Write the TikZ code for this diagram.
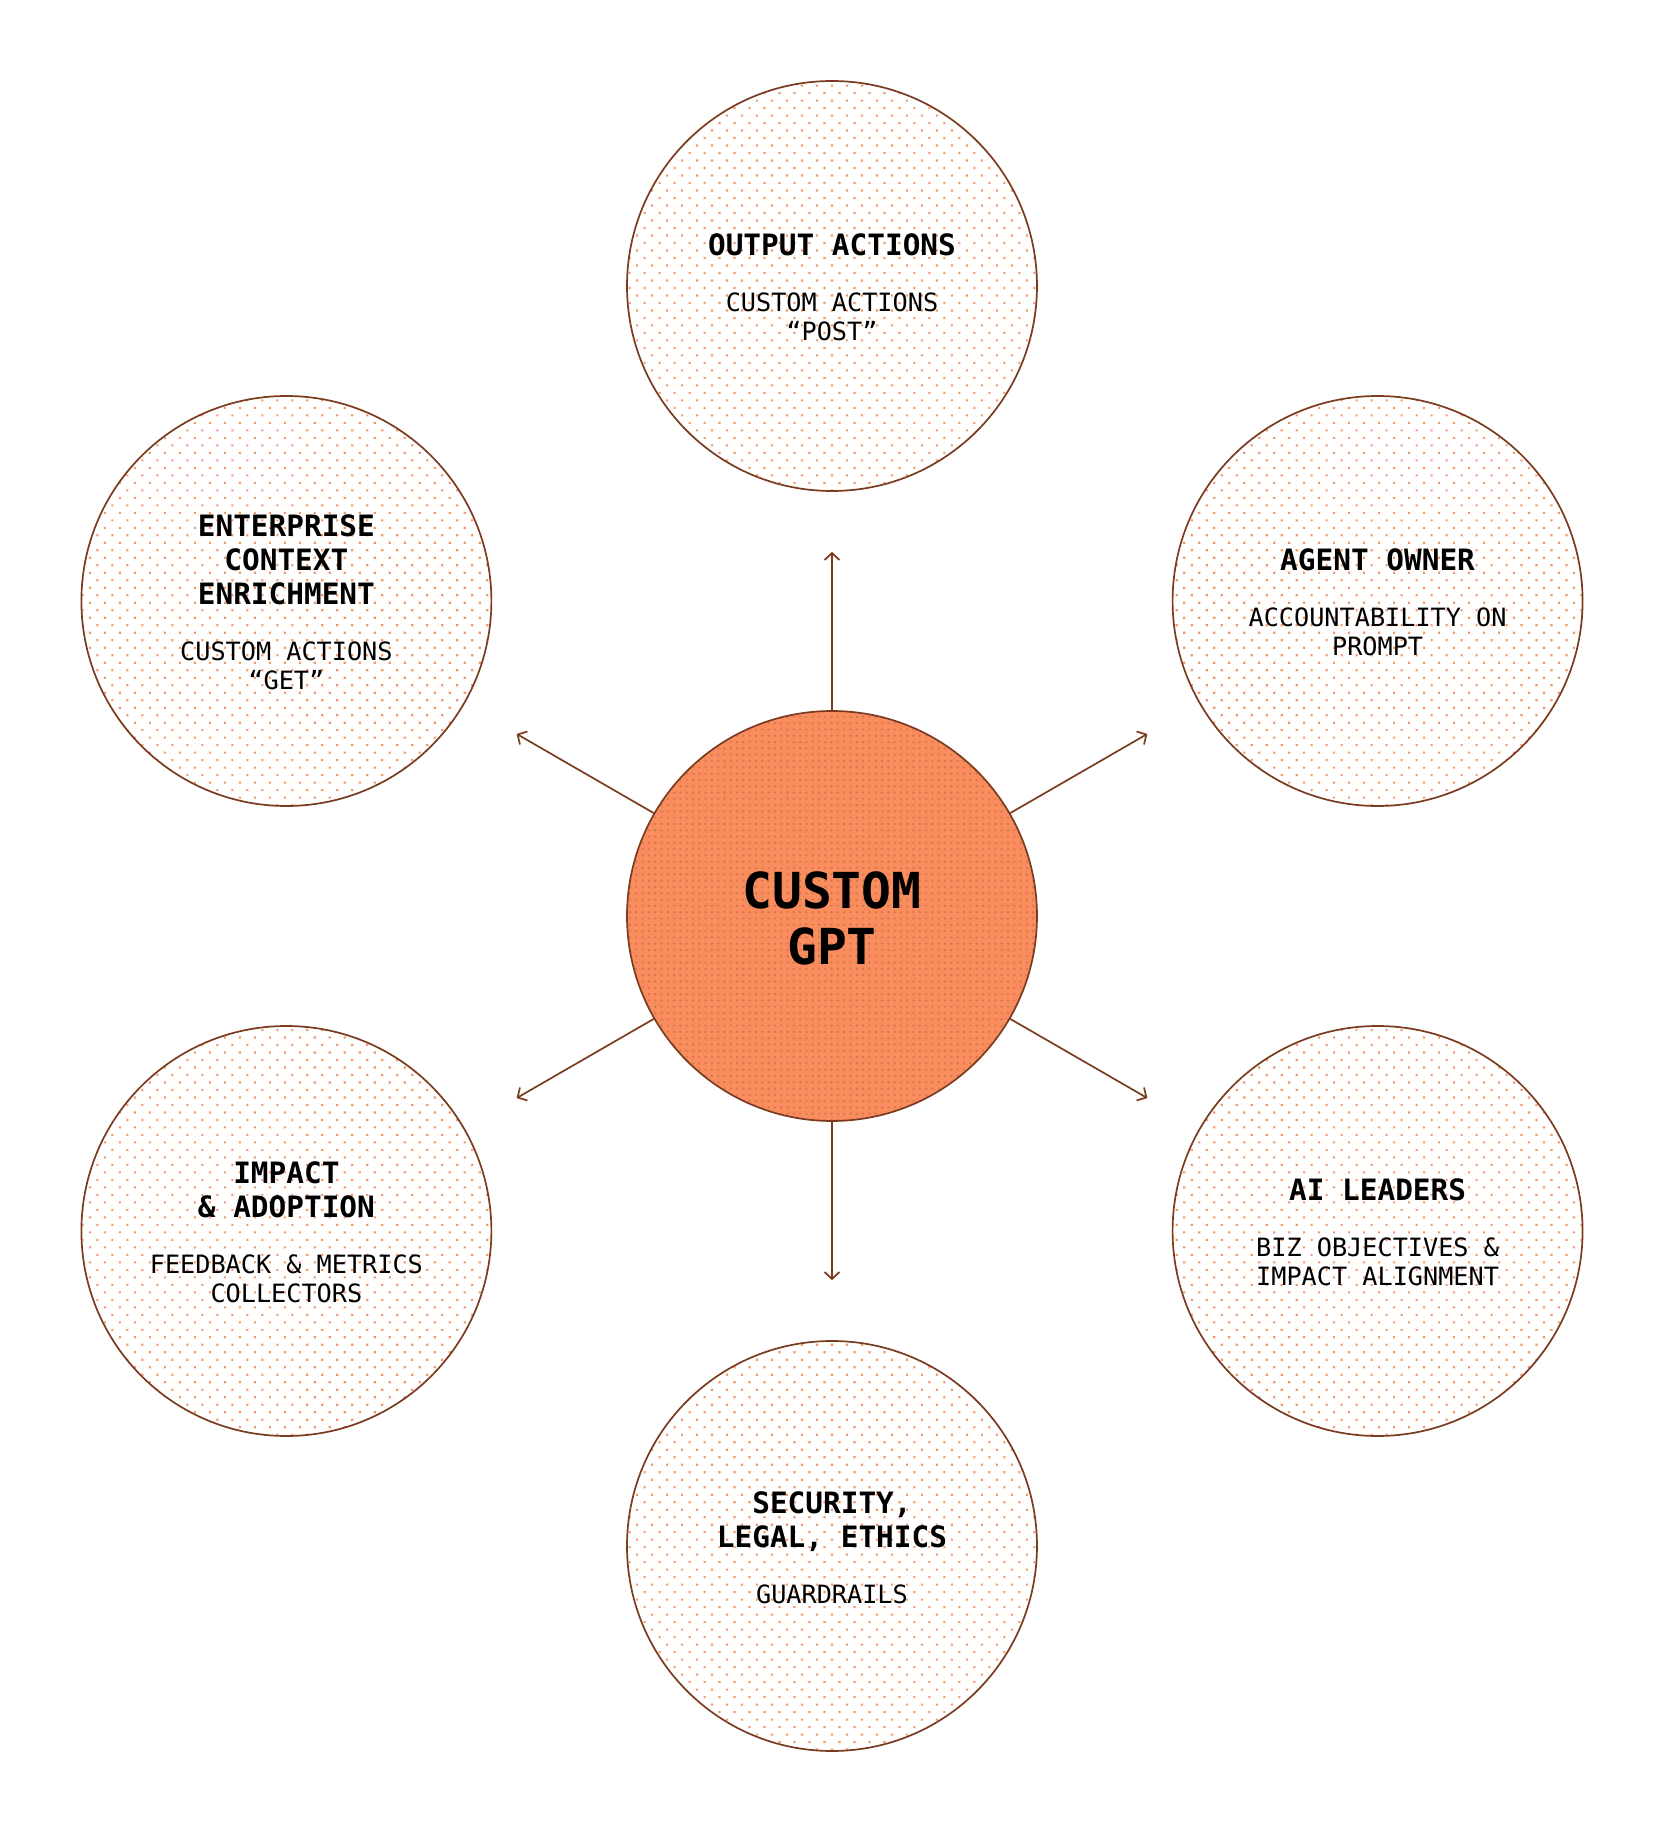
\documentclass[tikz,border=0pt]{standalone}
\usepackage{fontspec}
\setmonofont{DejaVu Sans Mono}
\usetikzlibrary{arrows.meta,patterns.meta}
\definecolor{rim}{HTML}{7A3B1F}
\definecolor{dotlight}{HTML}{F0996E}
\definecolor{coral}{HTML}{FA8D5E}
\definecolor{dotdark}{HTML}{D8774C}
\newcommand\titlefont{\ttfamily\bfseries\fontsize{14.7}{17}\selectfont}
\newcommand\subfont{\ttfamily\fontsize{12.6}{14.6}\selectfont}
\newcommand\hubfont{\ttfamily\bfseries\fontsize{24.8}{28}\selectfont}
\newcommand\bubbletext[2]{{\titlefont\begin{tabular}{@{}c@{}}\rule{0pt}{16.5pt}#1\end{tabular}}\\[11.7pt]{\subfont\begin{tabular}{@{}c@{}}#2\end{tabular}}}

\begin{document}
\begin{tikzpicture}[
    disc/.style={circle,minimum size=205pt,inner sep=0pt,draw=rim,line width=0.85pt,align=center},
    bubble/.style={disc,preaction={fill=white},pattern={Dots[distance=5.3pt,angle=45,radius=0.75pt]},pattern color=dotlight},
    hub/.style={disc,preaction={fill=coral},pattern={Dots[distance=3.15pt,radius=0.65pt]},pattern color=dotdark,font=\hubfont},
    link/.style={draw=rim,line width=0.85pt,-{Straight Barb[length=3.5pt,width=7.5pt]},shorten >=30pt}]
    \useasboundingbox (-416pt,-458pt) rectangle (416pt,458pt);
    \node[hub] (custom) at (0,0) {\rule{0pt}{20.5pt}CUSTOM\\GPT};
    \node[bubble] (output) at (90:315pt) {\bubbletext{OUTPUT ACTIONS}{CUSTOM ACTIONS\\“POST”}};
    \node[bubble] (owner) at (30:315pt) {\bubbletext{AGENT OWNER}{ACCOUNTABILITY ON\\PROMPT}};
    \node[bubble] (leaders) at (-30:315pt) {\bubbletext{AI LEADERS}{BIZ OBJECTIVES \&\\IMPACT ALIGNMENT}};
    \node[bubble] (security) at (-90:315pt) {\bubbletext{SECURITY,\\LEGAL, ETHICS}{GUARDRAILS}};
    \node[bubble] (impact) at (-150:315pt) {\bubbletext{IMPACT\\\& ADOPTION}{FEEDBACK \& METRICS\\COLLECTORS}};
    \node[bubble] (enrichment) at (150:315pt) {\bubbletext{ENTERPRISE\\CONTEXT\\ENRICHMENT}{CUSTOM ACTIONS\\“GET”}};
    \draw[link]
    (custom) edge (output) edge (owner) edge (leaders)
    edge (security) edge (impact) edge (enrichment);
\end{tikzpicture}
\end{document}
